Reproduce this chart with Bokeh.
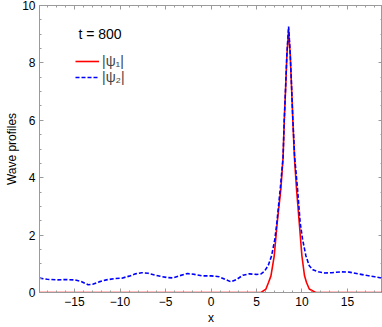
from bokeh.plotting import figure
from bokeh.models import Range1d, LinearAxis, FixedTicker, Legend, LegendItem, Label
from bokeh.embed import file_html
from bokeh.resources import INLINE

# ---- data ----
psi1_x = [-18.85, 5.5, 6.04, 6.32, 6.59, 6.95, 7.28, 7.68, 7.92, 8.05, 8.2, 8.34, 8.53,
          8.71, 8.86, 9.0, 9.17, 9.4, 9.7, 9.99, 10.28, 10.5, 10.8, 11.5, 18.85]
psi1_y = [0.0, 0.0, 0.12, 0.35, 0.58, 1.28, 2.44, 3.61, 4.7, 5.95, 7.1, 8.25, 9.15,
          8.25, 7.1, 5.95, 4.7, 3.61, 2.44, 1.28, 0.58, 0.35, 0.12, 0.0, 0.0]

psi2_x = [-18.85, -18.0, -17.0, -16.0, -15.0, -14.3, -13.5, -13.0, -12.3, -11.5, -10.5,
          -9.8, -9.0, -8.3, -7.6, -6.9, -6.2, -5.5, -4.8, -4.2, -3.5, -2.6, -1.8, -1.0,
          0.0, 0.9, 1.6, 2.2, 2.8, 3.5, 4.2, 5.0, 5.5, 5.9, 6.3, 6.66, 7.02, 7.24, 7.61,
          7.92, 8.05, 8.2, 8.34, 8.53, 8.71, 8.86, 9.0, 9.2, 9.51, 9.8, 10.06, 10.43,
          10.8, 11.2, 11.8, 12.5, 13.3, 14.3, 15.2, 16.2, 17.2, 18.0, 18.85]
psi2_y = [0.50, 0.46, 0.44, 0.45, 0.44, 0.39, 0.27, 0.29, 0.37, 0.44, 0.49,
          0.50, 0.57, 0.65, 0.69, 0.67, 0.61, 0.56, 0.52, 0.51, 0.58, 0.66, 0.63, 0.58,
          0.58, 0.55, 0.45, 0.37, 0.45, 0.60, 0.65, 0.63, 0.65, 0.75, 0.95, 1.28, 1.86, 2.44, 3.61,
          4.7, 6.0, 7.15, 8.31, 9.27, 8.31, 7.15, 6.0, 4.7, 3.61, 2.44, 1.86, 1.28,
          0.93, 0.79, 0.72, 0.68, 0.69, 0.72, 0.71, 0.65, 0.59, 0.55, 0.50]

x_ticks = [-15, -10, -5, 0, 5, 10, 15]
x_tick_labels = ["\u221215", "\u221210", "\u22125", "0", "5", "10", "15"]
x_minor = list(range(-18, 19))
y_ticks = [0, 2, 4, 6, 8, 10]
y_minor = [i * 0.5 for i in range(0, 21)]
series_labels = ["|\u03c8\u2081|", "|\u03c8\u2082|"]
time_label = "t = 800"

FONT = "Liberation Sans"
GRAY = "#9a9a9a"

p = figure(width=382, height=327, x_range=Range1d(-18.85, 18.85), y_range=Range1d(0, 10),
           output_backend="svg", toolbar_location=None,
           x_axis_label="x", y_axis_label="Wave profiles",
           min_border_left=39, min_border_right=0, min_border_top=5, min_border_bottom=35)
p.background_fill_color = "white"
p.border_fill_color = "white"
p.outline_line_color = GRAY
p.xgrid.visible = False
p.ygrid.visible = False

def style_axis(ax, ticks, minor, labels=True):
    ax.ticker = FixedTicker(ticks=ticks, minor_ticks=minor)
    ax.axis_line_color = GRAY
    ax.major_tick_line_color = GRAY
    ax.minor_tick_line_color = GRAY
    ax.major_tick_in = 4
    ax.major_tick_out = 0
    ax.minor_tick_in = 2
    ax.minor_tick_out = 0
    ax.major_label_text_font = FONT
    ax.major_label_text_color = "black"
    ax.major_label_text_font_size = "12px" if labels else "0px"
    ax.axis_label_text_font = FONT
    ax.axis_label_text_font_size = "12px"
    ax.axis_label_text_font_style = "normal"
    ax.axis_label_text_color = "black"

xa = p.xaxis[0]
style_axis(xa, x_ticks, x_minor)
xa.major_label_overrides = {t: l for t, l in zip(x_ticks, x_tick_labels)}
xa.major_label_standoff = 4
xa.axis_label_standoff = 2

ya = p.yaxis[0]
style_axis(ya, y_ticks, y_minor)
ya.major_label_standoff = 4
ya.axis_label_standoff = 0

top = LinearAxis()
style_axis(top, x_ticks, x_minor, labels=False)
top.major_label_overrides = {t: "" for t in x_ticks}
top.major_label_standoff = 0
p.add_layout(top, "above")
right = LinearAxis()
style_axis(right, y_ticks, y_minor, labels=False)
right.major_label_overrides = {t: "" for t in y_ticks}
right.major_label_standoff = 0
p.add_layout(right, "right")

r1 = p.line(psi1_x, psi1_y, line_color="#ff0000", line_width=1.6)
r2 = p.line(psi2_x, psi2_y, line_color="#0000ff", line_width=1.6, line_dash="4 2")

legend = Legend(items=[LegendItem(label=series_labels[0], renderers=[r1]),
                       LegendItem(label=series_labels[1], renderers=[r2])],
                location=(36, 207))
legend.background_fill_alpha = 0
legend.border_line_alpha = 0
legend.padding = 0
legend.margin = 0
legend.spacing = -10
legend.glyph_width = 24
legend.glyph_height = 12
legend.label_height = 12
legend.label_standoff = 3
legend.label_text_font = FONT
legend.label_text_font_size = "14px"
p.add_layout(legend)

p.add_layout(Label(x=-14.57, y=8.99, text=time_label, text_font=FONT, text_font_size="14px",
                   text_baseline="middle", text_align="left", text_color="black"))

open("out.html", "w").write(file_html(p, INLINE))
